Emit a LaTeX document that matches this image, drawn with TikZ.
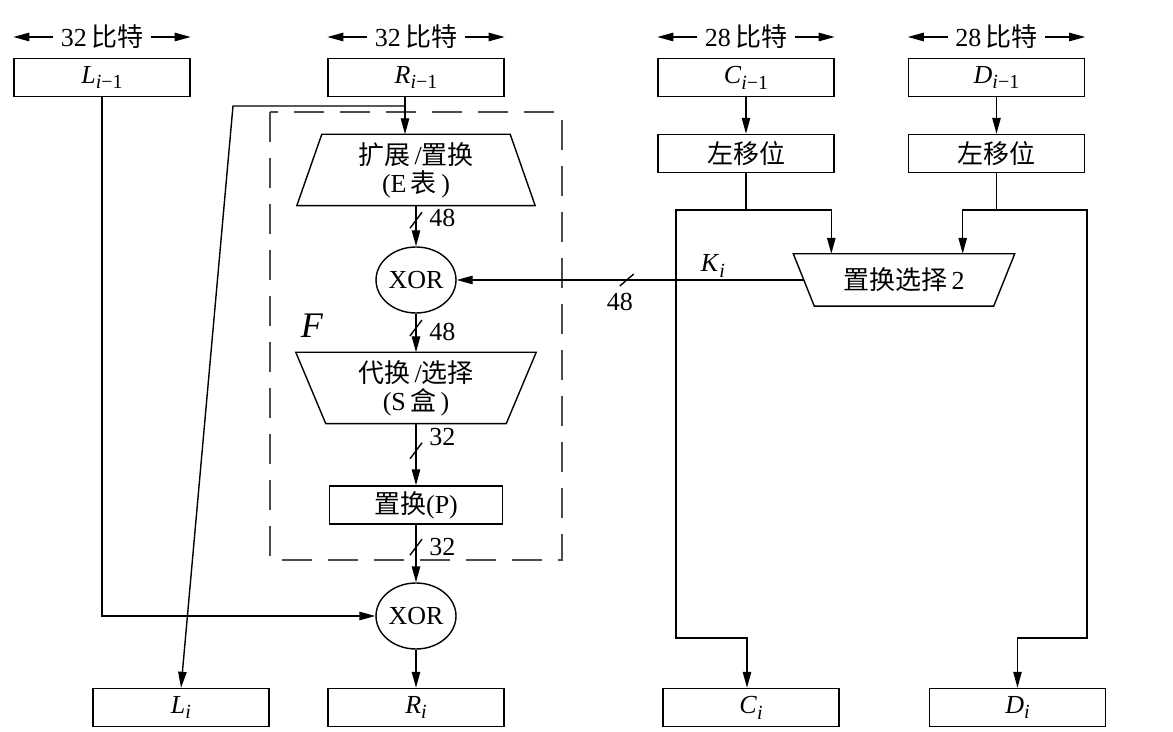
\documentclass[tikz,border=0pt]{standalone}
\usepackage{fontspec}
\setmainfont{Liberation Serif}
\newfontfamily\cjk{Noto Sans CJK SC}
\usetikzlibrary{arrows.meta,shapes.geometric}

\newcommand\idx[1]{\raisebox{-.5ex}{\fontsize{10}{10}\selectfont #1}}

\tikzset{
    box/.style   = {draw, minimum width=88pt, minimum height=19pt, inner sep=0pt},
    trap/.style  = {minimum width=93.5pt, minimum height=35pt, inner sep=0pt, align=center},
    xorc/.style  = {draw, ellipse, minimum width=40pt, minimum height=33pt, inner sep=0pt},
    arr/.style   = {-{Triangle[length=8pt,width=4.2pt]}},
    fbox/.style  = {draw=black!70, dash pattern=on 15pt off 8pt},
}

\begin{document}
\begin{tikzpicture}[x=0.5pt,y=-0.5pt,line width=0.7pt,font=\fontsize{13}{14}\selectfont]
    \useasboundingbox (0,0) rectangle (1173,732);

    % blocks
    \node [box] (Lprev) at (102,77.5)   {\textit{L}\idx{\textit{i}−1}};
    \node [box] (Rprev) at (416,77.5)   {\textit{R}\idx{\textit{i}−1}};
    \node [box] (Cprev) at (746,77.5)   {\textit{C}\idx{\textit{i}−1}};
    \node [box] (Dprev) at (996.5,77.5) {\textit{D}\idx{\textit{i}−1}};

    \node [box] (shC) at (746,153.5)   {\cjk 左移位};
    \node [box] (shD) at (996.5,153.5) {\cjk 左移位};

    \node [box] (Lnext) at (181,707.5)    {\textit{L}\idx{\textit{i}}};
    \node [box] (Rnext) at (416,707.5)    {\textit{R}\idx{\textit{i}}};
    \node [box] (Cnext) at (751,707.5)    {\textit{C}\idx{\textit{i}}};
    \node [box] (Dnext) at (1017.5,707.5) {\textit{D}\idx{\textit{i}}};

    % widths
    \node (wL) at (102,37)   {32\,{\cjk 比特}};
    \node (wR) at (416,37)   {32\,{\cjk 比特}};
    \node (wC) at (746,37)   {28\,{\cjk 比特}};
    \node (wD) at (996.5,37) {28\,{\cjk 比特}};
    \draw [arr] (wL.west) -- (wL.west -| Lprev.west);
    \draw [arr] (wL.east) -- (wL.east -| Lprev.east);
    \draw [arr] (wR.west) -- (wR.west -| Rprev.west);
    \draw [arr] (wR.east) -- (wR.east -| Rprev.east);
    \draw [arr] (wC.west) -- (wC.west -| Cprev.west);
    \draw [arr] (wC.east) -- (wC.east -| Cprev.east);
    \draw [arr] (wD.west) -- (wD.west -| Dprev.west);
    \draw [arr] (wD.east) -- (wD.east -| Dprev.east);

    % F
    \draw [fbox] (270,112) rectangle (562,560);
    \node [font=\fontsize{18}{18}\selectfont] (flab) at (312,326) {\textit{F}};

    \node [trap] (ebox) at (416,170) {{\cjk 扩展}\,/{\cjk 置换}\\(E\,{\cjk 表}\,)};
    \draw ([xshift=-12.5pt]ebox.south west) -- ([xshift=12.5pt]ebox.south east)
        -- (ebox.north east) -- (ebox.north west) -- cycle;

    \node [xorc] (xor1) at (416,280) {XOR};

    \node [trap, minimum width=89.5pt] (sbox) at (416,388) {{\cjk 代换}\,/{\cjk 选择}\\(S\,{\cjk 盒}\,)};
    \draw ([xshift=-15pt]sbox.north west) -- ([xshift=15pt]sbox.north east)
        -- (sbox.south east) -- (sbox.south west) -- cycle;

    \node [box, minimum width=86.5pt] (pbox) at (416,505) {{\cjk 置换}(P)};

    \node [xorc] (xor2) at (416,616) {XOR};

    % key side
    \node [trap, minimum width=89pt, minimum height=25.5pt] (pc2) at (904,280) {{\cjk 置换选择}\,2};
    \draw ([xshift=-10.5pt]pc2.north west) -- ([xshift=10.5pt]pc2.north east)
        -- (pc2.south east) -- (pc2.south west) -- cycle;

    % R(i-1) split
    \coordinate (spl) at (405,106);
    \coordinate (bnd) at (233,106);
    \draw (Rprev.south -| spl) -- (spl);
    \draw [arr] (spl) -- (ebox.north -| spl);
    \draw [arr] (spl) -- (bnd) -- (Lnext.north);
    \draw [arr] (Lprev) |- (xor2);

    % F chain
    \draw [arr] (ebox.south) -- coordinate [pos=.36] (m1) (xor1.north);
    \draw ([shift={(-6,8)}]m1) -- ([shift={(6,-8)}]m1);
    \node [anchor=west] (b1) at ([shift={(6,-2)}]m1) {48};

    \draw [arr] (xor1.south) -- coordinate [pos=.37] (m2) (sbox.north);
    \draw ([shift={(-6,8)}]m2) -- ([shift={(6,-8)}]m2);
    \node [anchor=west] (b2) at ([shift={(6,4)}]m2) {48};

    \draw [arr] (sbox.south) -- coordinate [pos=.44] (m3) (pbox.north);
    \draw ([shift={(-6,8)}]m3) -- ([shift={(6,-8)}]m3);
    \node [anchor=west] (b3) at ([shift={(6,-14)}]m3) {32};

    \draw [arr] (pbox.south) -- coordinate [pos=.39] (m4) (xor2.north);
    \draw ([shift={(-6,8)}]m4) -- ([shift={(6,-8)}]m4);
    \node [anchor=west] (b4) at ([shift={(6,0)}]m4) {32};

    \draw [arr] (xor2) -- (Rnext);

    % K(i)
    \draw [arr] ([xshift=-5.25pt]pc2.west) -- coordinate [pos=.51] (m5) (xor1.east);
    \draw ([shift={(-7,6)}]m5) -- ([shift={(7,-6)}]m5);
    \node (b5) at ([shift={(-7,22)}]m5) {48};
    \node (klab) at (713,266) {\textit{K}\idx{\textit{i}}};

    % C and D
    \draw [arr] (Cprev) -- (shC);
    \draw [arr] (Dprev) -- (shD);

    \coordinate (cL) at (676,210);
    \coordinate (cB) at (676,638);
    \coordinate (dR) at (1087,210);
    \coordinate (dB) at (1087,638);
    \coordinate (cJ) at (shC.south |- cL);
    \coordinate (dJ) at (shD.south |- dR);

    \draw (shC.south) -- (cJ);
    \draw [arr] (cJ) -| ([xshift=8.5pt]pc2.north west);
    \draw [arr] (cJ) -- (cL) -- (cB) -| ([xshift=-2pt]Cnext.north);

    \draw (shD.south) -- (dJ);
    \draw [arr] (dJ) -| ([xshift=-15.5pt]pc2.north east);
    \draw [arr] (dJ) -- (dR) -- (dB) -| (Dnext.north);

\end{tikzpicture}
\end{document}
